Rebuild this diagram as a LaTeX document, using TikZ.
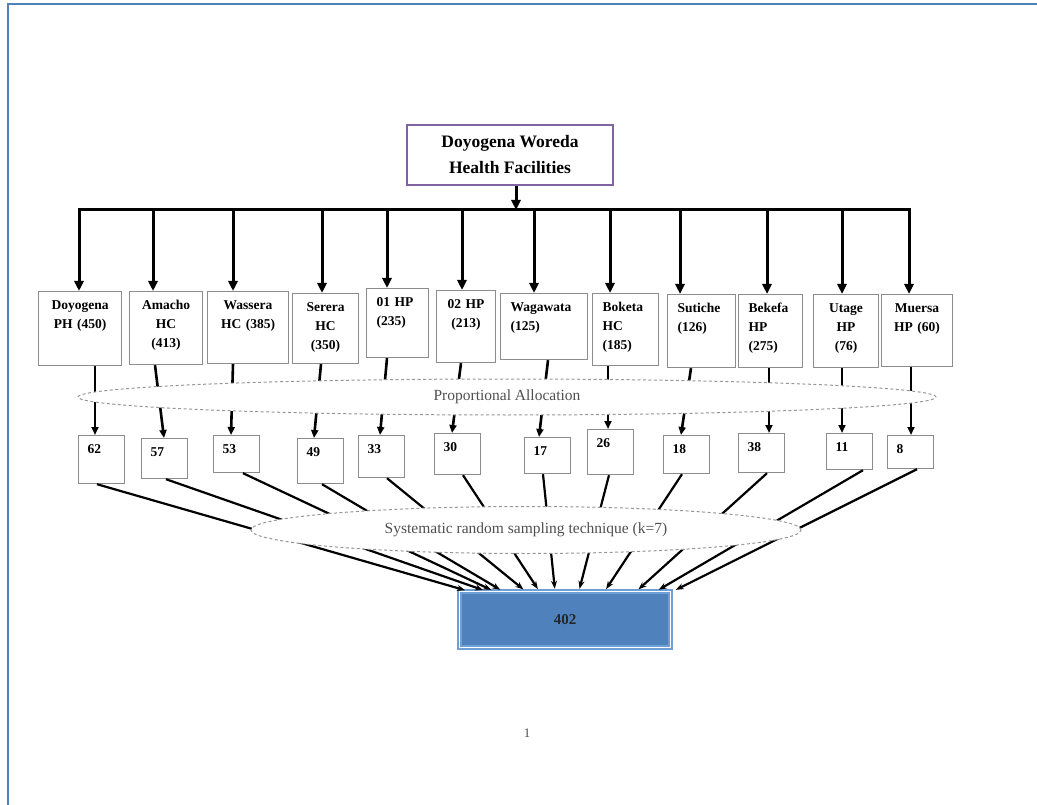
\documentclass[tikz,border=0pt]{standalone}
\usepackage{fontspec}
\setmainfont{Liberation Serif}
\usepackage{tikz}
\usetikzlibrary{positioning,arrows.meta,shapes.geometric}
\definecolor{pageline}{RGB}{79,129,189}
\definecolor{headline}{RGB}{128,100,162}
\definecolor{resfill}{RGB}{79,129,189}
\definecolor{resline}{RGB}{110,160,215}
\definecolor{boxline}{RGB}{140,140,140}
\definecolor{ovalline}{RGB}{150,150,150}
\definecolor{ovaltext}{RGB}{80,80,80}

\begin{document}
\begin{tikzpicture}[x=1pt, y=-1pt,
  fac/.style={draw=boxline, line width=1.2pt, anchor=north west, inner xsep=10pt, inner ysep=8pt,
    text height=10pt, font=\fontsize{13.5}{19}\selectfont\bfseries},
  num/.style={draw=boxline, line width=1.2pt, anchor=north west, inner xsep=9pt, inner ysep=8pt,
    text width=28pt, text height=10pt, align=left, font=\fontsize{13.5}{19}\selectfont\bfseries},
  oval/.style={ellipse, draw=ovalline, dash pattern=on 3pt off 2.5pt, line width=1pt, fill=white,
    inner sep=0pt, text=ovaltext, font=\fontsize{15.5}{18}\selectfont},
  drop/.style={line width=3pt, -{Triangle[length=10pt,width=9pt]}},
  alloc/.style={line width=2.6pt, -{Triangle[length=8pt,width=7pt]}},
  samp/.style={line width=2.2pt, shorten >=2pt, -{Stealth[length=8pt,width=6pt]}}]
  \useasboundingbox (0,0) rectangle (1037,805);
  \draw[pageline, line width=2pt] (1037,4.5) -- (7.5,4.5) -- (7.5,805);

  \node[draw=headline, line width=2.8pt, minimum width=206pt, minimum height=60pt, align=center,
    font=\fontsize{17.5}{26}\selectfont\bfseries] (hd) at (510,155) {Doyogena Woreda\\Health Facilities};
  \coordinate (bus) at (516,210);
  \draw[drop] ([xshift=6pt]hd.south) -- (bus);
  \foreach \i/\x in {1/79,2/153,3/233,4/322,5/387,6/462,7/534,8/610,9/680,10/767,11/842,12/909}
    \coordinate (d\i) at (\x,210);
  \draw[line width=3pt, line cap=rect] (d1) -- (d12);

  \node[fac, text width=63pt, text depth=48pt, align=center] (a1) at (38,291) {Doyogena\\PH (450)};
  \node[fac, text width=53pt, text depth=47pt, align=center] (a2) at (129,291) {Amacho\\HC\\(413)};
  \node[fac, text width=61pt, text depth=46pt, align=center] (a3) at (207,291) {Wassera\\HC (385)};
  \node[fac, text width=46pt, text depth=44pt, align=center] (a4) at (292,293) {Serera\\HC\\(350)};
  \node[fac, text width=42pt, text depth=43pt, align=left] (a5) at (366,288) {01 HP\\(235)};
  \node[fac, text width=39pt, text depth=46pt, align=center] (a6) at (436,290) {02 HP\\(213)};
  \node[fac, text width=67pt, text depth=40pt, align=left] (a7) at (500,293) {Wagawata\\(125)};
  \node[fac, text width=46pt, text depth=46pt, align=left] (a8) at (592,293) {Boketa\\HC\\(185)};
  \node[fac, text width=48pt, text depth=47pt, align=left] (a9) at (667,294) {Sutiche\\(126)};
  \node[fac, text width=44pt, text depth=47pt, align=left] (a10) at (738,294) {Bekefa\\HP\\(275)};
  \node[fac, text width=45pt, text depth=47pt, align=center] (a11) at (813,294) {Utage\\HP\\(76)};
  \node[fac, text width=51pt, text depth=46pt, align=center] (a12) at (881,294) {Muersa\\HP (60)};
  \foreach \i in {1,...,12}
    \draw[drop] (d\i) -- (d\i |- a\i.north);

  \foreach \n/\x/\y/\dd/\v in {1/78/435/22pt/62, 2/141/438/14pt/57, 3/213/435/11pt/53, 4/297/438/19pt/49,
      5/358/435/16pt/33, 6/434/433/15pt/30, 7/524/437/10pt/17, 8/587/429/19pt/26,
      9/663/435/12pt/18, 10/738/433/13pt/38, 11/826/433/10pt/11, 12/887/435/7pt/8}
    \node[num, text depth=\dd] (b\n) at (\x,\y) {\v};
  \foreach \i/\s/\e in {1/95/95, 2/155/164, 3/233/231, 4/321/314, 5/387/380, 6/461/452,
      7/548/539, 8/608/608, 9/691/681, 10/769/769, 11/842/842, 12/911/911}
    \draw[alloc] (a\i.south -| \s,0) -- (b\i.north -| \e,0);
  \node[oval, minimum width=858pt, minimum height=36pt] (pa) at (507,397) {Proportional Allocation};

  \node[fill=resfill, draw=resline, double=white, double distance=1.5pt, line width=1.5pt,
    minimum width=211pt, minimum height=56pt, font=\fontsize{15}{18}\selectfont\bfseries,
    text=black!85] (res) at (565,619.5) {402};
  \foreach \i/\s/\e in {1/97/467, 2/166/485, 3/243/493, 4/322/502, 5/387/525, 6/463/539,
      7/543/555, 8/609/579, 9/682/605, 10/767/637, 11/863/657, 12/917/674}
    \draw[samp] (b\i.south -| \s,0) -- (res.north -| \e,0);
  \node[oval, minimum width=550pt, minimum height=47pt] (sr) at (526,530)
    {Systematic random sampling technique (k=7)};

  \node[font=\fontsize{13}{15}\selectfont, text=black!70] (pg) at (527,733) {1};
\end{tikzpicture}
\end{document}
